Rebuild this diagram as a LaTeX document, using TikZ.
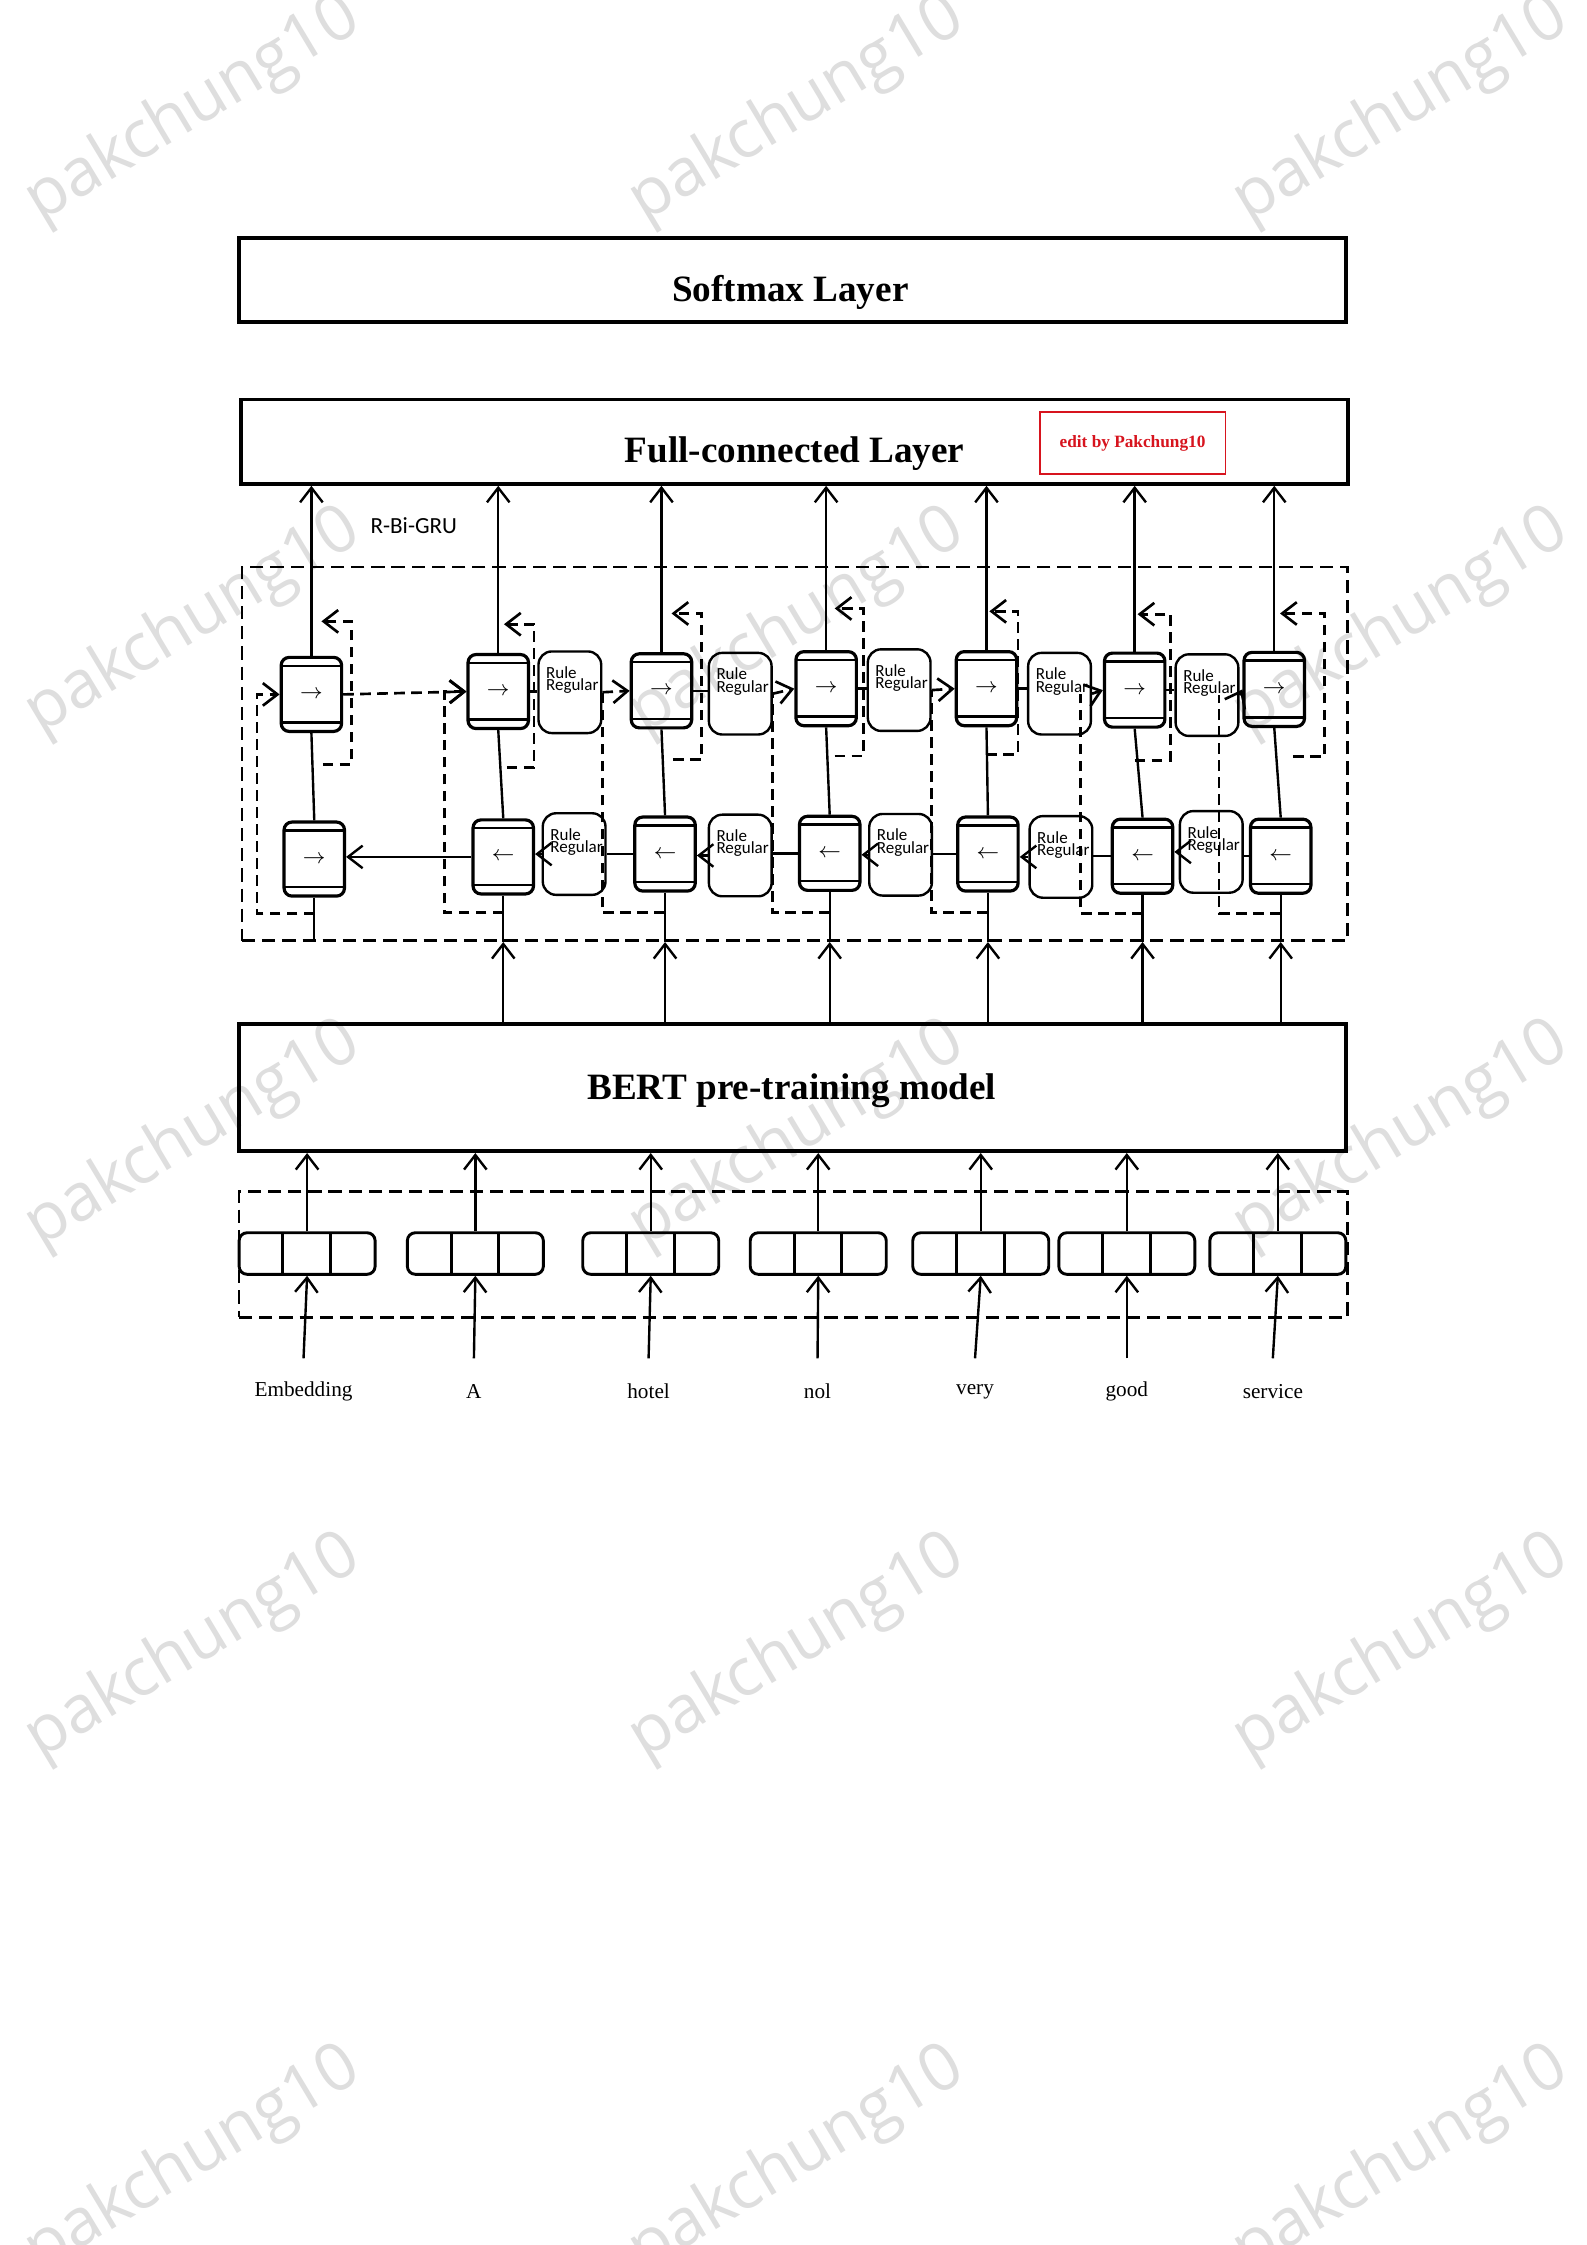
\documentclass[tikz,border=0pt]{standalone}
\usepackage{fontspec}
\setmainfont{Liberation Serif}
\newfontfamily\calibri{Carlito}
\newfontfamily\wmfont{Open Sans}
\usepackage{tikz}
\usetikzlibrary{arrows.meta, positioning}
\definecolor{editred}{RGB}{215,20,30}
\definecolor{wmgray}{RGB}{222,222,222}
\tikzstyle{layer} = [rectangle, draw=black, line width=1.4pt, minimum width=14.65cm]
\tikzstyle{layertext} = [font=\fontsize{14}{17}\selectfont\bfseries]
\tikzstyle{editbox} = [rectangle, draw=editred, line width=0.7pt, minimum width=2.46cm, minimum height=0.815cm, text=editred, font=\fontsize{6.5}{8}\selectfont\bfseries]
\tikzstyle{dashbox} = [rectangle, draw=black, line width=1pt, dash pattern=on 5pt off 2.6pt]
\tikzstyle{gru} = [rectangle, rounded corners=3pt, draw=black, line width=1.2pt, minimum width=0.8cm, minimum height=0.98cm, inner sep=0pt, font=\fontsize{8.5}{10}\selectfont,
  path picture={\draw[line width=0.9pt] ([yshift=-0.11cm]path picture bounding box.north west) -- ([yshift=-0.11cm]path picture bounding box.north east);
                \draw[line width=0.9pt] ([yshift=0.12cm]path picture bounding box.south west) -- ([yshift=0.12cm]path picture bounding box.south east);}]
\tikzstyle{ruletext} = [anchor=north west, xshift=0.11cm, yshift=-0.21cm, inner sep=0pt, align=left, font=\calibri\fontsize{6.4}{4.6}\selectfont]
\tikzstyle{rulebox} = [rectangle, rounded corners=5pt, draw=black, line width=0.9pt, minimum width=0.83cm, minimum height=1.08cm, label={[ruletext]north west:{Rule\\Regular}}]
\tikzstyle{vec} = [rectangle, rounded corners=3pt, draw=black, line width=1.1pt, minimum width=1.8cm, minimum height=0.55cm,
  path picture={\draw[line width=1.1pt] ([xshift=-0.32cm]path picture bounding box.north) -- ([xshift=-0.32cm]path picture bounding box.south);
                \draw[line width=1.1pt] ([xshift=0.31cm]path picture bounding box.north) -- ([xshift=0.31cm]path picture bounding box.south);}]
\tikzstyle{word} = [font=\fontsize{8}{10}\selectfont, minimum height=0.87cm, inner sep=0pt]
\tikzstyle{watermark} = [text=wmgray, font=\wmfont\fontsize{25}{30}\selectfont, rotate=31]
\tikzstyle{arrow} = [line width=0.9pt, -{Straight Barb[length=5.5pt,width=8.5pt]}]
\tikzstyle{link} = [line width=0.9pt]
\tikzstyle{dasharrow} = [line width=1pt, dash pattern=on 4pt off 2.4pt, -{Straight Barb[length=5.5pt,width=8.5pt]}]
\tikzstyle{dashline} = [line width=1pt, dash pattern=on 4pt off 2.4pt]

\begin{document}
\begin{tikzpicture}[x=0.018953cm, y=-0.018953cm]
    \path[use as bounding box, fill=white] (0,0) rectangle (1108,1568);
    % watermarks
    \foreach \wx in {135,557,979}
        \foreach \wy in {77,435,793,1151,1509}
            \node (wm-\wx-\wy) [watermark] at (\wx,\wy) {pakchung10};

    % output layers
    \node (softmax) [layer, minimum height=1.118cm] at (553.5,195.5) {};
    \node (softmaxtxt) [layertext] at (552,204) {Softmax Layer};
    \node (fc) [layer, minimum height=1.118cm] at (555,308.5) {};
    \node (fctxt) [layertext] at (555,316.5) {Full-connected Layer};
    \node (edit) [editbox] at (791,309.5) {edit by Pakchung10};

    % R-Bi-GRU
    \node (rnn) [dashbox, minimum width=14.63cm, minimum height=4.947cm] at (555,526.5) {};
    \node (rnnlabel) [font=\calibri\fontsize{8.7}{10}\selectfont] at (289,367) {R-Bi-GRU};

    \node (f1) [gru] at (217.5,485) {$\rightarrow$};
    \node (f2) [gru] at (348,483) {$\rightarrow$};
    \node (f3) [gru] at (462,482.5) {$\rightarrow$};
    \node (f4) [gru] at (577,481) {$\rightarrow$};
    \node (f5) [gru] at (689,481) {$\rightarrow$};
    \node (f6) [gru] at (792.5,482) {$\rightarrow$};
    \node (f7) [gru] at (890,481.5) {$\rightarrow$};

    \node (r1) [rulebox] at (398,483.5) {};
    \node (r2) [rulebox] at (517,484.5) {};
    \node (r3) [rulebox] at (628,482) {};
    \node (r4) [rulebox] at (740,484.5) {};
    \node (r5) [rulebox] at (843,485.5) {};

    \node (b1) [gru] at (219.5,600) {$\rightarrow$};
    \node (b2) [gru] at (351.5,598.5) {$\leftarrow$};
    \node (b3) [gru] at (464.5,596.5) {$\leftarrow$};
    \node (b4) [gru] at (579.5,596) {$\leftarrow$};
    \node (b5) [gru] at (690,596.5) {$\leftarrow$};
    \node (b6) [gru] at (798,598) {$\leftarrow$};
    \node (b7) [gru] at (894.5,598) {$\leftarrow$};

    \node (q1) [rulebox] at (401,596.5) {};
    \node (q2) [rulebox] at (517,597.5) {};
    \node (q3) [rulebox] at (629,597) {};
    \node (q4) [rulebox] at (741,598.5) {};
    \node (q5) [rulebox] at (846,595) {};

    % forward row
    \draw [dasharrow] (f1.east) -- (f2.west);
    \draw [link] (f2.east) -- (f2.east -| r1.west);
    \draw [dasharrow] (r1.east) -- (f3.west);
    \draw [link] (f3.east) -- (f3.east -| r2.west);
    \draw [dasharrow] (r2.east) -- (f4.west);
    \draw [link] (f4.east) -- (f4.east -| r3.west);
    \draw [dasharrow] (r3.east) -- (f5.west);
    \draw [link] (f5.east) -- (f5.east -| r4.west);
    \draw [dasharrow] (r4.east) -- (f6.west);
    \draw [link] (f6.east) -- (f6.east -| r5.west);
    \draw [dasharrow] (r5.east) -- (f7.west);

    % backward row
    \draw [arrow] (b2.west) -- (b2.west -| b1.east);
    \draw [link] (b3.west) -- (b3.west -| q1.east);
    \draw [arrow] (q1.west) -- (q1.west -| b2.east);
    \draw [link] (b4.west) -- (b4.west -| q2.east);
    \draw [arrow] (q2.west) -- (q2.west -| b3.east);
    \draw [link] (b5.west) -- (b5.west -| q3.east);
    \draw [arrow] (q3.west) -- (q3.west -| b4.east);
    \draw [link] (b6.west) -- (b6.west -| q4.east);
    \draw [arrow] (q4.west) -- (q4.west -| b5.east);
    \draw [link] (b7.west) -- (b7.west -| q5.east);
    \draw [arrow] (q5.west) -- (q5.west -| b6.east);

    % columns
    \draw [link] (b1.north) -- (f1.south);
    \draw [link] (b2.north) -- (f2.south);
    \draw [link] (b3.north) -- (f3.south);
    \draw [link] (b4.north) -- (f4.south);
    \draw [link] (b5.north) -- (f5.south);
    \draw [link] (b6.north) -- (f6.south);
    \draw [link] (b7.north) -- (f7.south);

    \draw [arrow] (f1.north) -- (f1.north |- fc.south);
    \draw [arrow] (f2.north) -- (f2.north |- fc.south);
    \draw [arrow] (f3.north) -- (f3.north |- fc.south);
    \draw [arrow] (f4.north) -- (f4.north |- fc.south);
    \draw [arrow] (f5.north) -- (f5.north |- fc.south);
    \draw [arrow] (f6.north) -- (f6.north |- fc.south);
    \draw [arrow] (f7.north) -- (f7.north |- fc.south);

    % self loops
    \draw [dasharrow] (f1.south) ++(8,22) -- ++(20,0) -- ++(0,-100) -- ++(-21,0);
    \draw [dasharrow] (f2.south) ++(6,26) -- ++(19,0) -- ++(0,-100) -- ++(-21,0);
    \draw [dasharrow] (f3.south) ++(8,21) -- ++(20,0) -- ++(0,-102) -- ++(-21,0);
    \draw [dasharrow] (f4.south) ++(6,20) -- ++(20,0) -- ++(0,-103) -- ++(-20,0);
    \draw [dasharrow] (f5.south) ++(0,19) -- ++(22,0) -- ++(0,-100) -- ++(-20,0);
    \draw [dasharrow] (f6.south) ++(0,22) -- ++(25,0) -- ++(0,-102) -- ++(-23,0);
    \draw [dasharrow] (f7.south) ++(13,20) -- ++(22,0) -- ++(0,-100) -- ++(-31,0);

    % feeds from the backward cells
    \draw [dasharrow] (b1.south) ++(0,11) -- ++(-40,0) |- (f1.west);
    \draw [dasharrow] (b2.south) ++(0,12) -- ++(-41,0) |- (f2.west);
    \draw [dashline] (b3.south) ++(0,14) -| (r1.east);
    \draw [dashline] (b4.south) ++(0,14.5) -| (r2.east);
    \draw [dashline] (b5.south) ++(0,14) -| (r3.east);
    \draw [dashline] (b6.south) ++(0,13) -| ([xshift=-0.15cm]r4.east);
    \draw [dashline] (b7.south) ++(0,13) -| ([xshift=-0.27cm]r5.east);

    % BERT
    \node (bert) [layer, minimum height=1.687cm] at (553.5,759.5) {};
    \node (berttxt) [layertext] at (553,762) {BERT pre-training model};

    \draw [link] (b1.south) -- (b1.south |- rnn.south);
    \draw [link] (b2.south) -- (b2.south |- rnn.south);
    \draw [link] (b3.south) -- (b3.south |- rnn.south);
    \draw [link] (b4.south) -- (b4.south |- rnn.south);
    \draw [link] (b5.south) -- (b5.south |- rnn.south);
    \draw [link] (b6.south) -- (b6.south |- rnn.south);
    \draw [link] (b7.south) -- (b7.south |- rnn.south);
    \draw [arrow] (b2.south |- bert.north) -- (b2.south |- rnn.south);
    \draw [arrow] (b3.south |- bert.north) -- (b3.south |- rnn.south);
    \draw [arrow] (b4.south |- bert.north) -- (b4.south |- rnn.south);
    \draw [arrow] (b5.south |- bert.north) -- (b5.south |- rnn.south);
    \draw [arrow] (b6.south |- bert.north) -- (b6.south |- rnn.south);
    \draw [arrow] (b7.south |- bert.north) -- (b7.south |- rnn.south);

    % embedding
    \node (emb) [dashbox, minimum width=14.67cm, minimum height=1.668cm] at (554,876) {};
    \node (e1) [vec] at (214.5,875.5) {};
    \node (e2) [vec] at (332,875.5) {};
    \node (e3) [vec] at (454.5,875.5) {};
    \node (e4) [vec] at (571.5,875.5) {};
    \node (e5) [vec] at (685,875.5) {};
    \node (e6) [vec] at (787,875.5) {};
    \node (e7) [vec] at (892.5,875.5) {};

    \node (w1) [word] at (212,972) {Embedding};
    \node (w2) [word] at (331,972) {A};
    \node (w3) [word] at (453,972) {hotel};
    \node (w4) [word] at (571,972) {nol};
    \node (w5) [word] at (681,972) {very};
    \node (w6) [word] at (787,972) {good};
    \node (w7) [word] at (889,972) {service};

    \draw [arrow] (e1.north) -- (e1.north |- bert.south);
    \draw [arrow] (e2.north) -- (e2.north |- bert.south);
    \draw [arrow] (e3.north) -- (e3.north |- bert.south);
    \draw [arrow] (e4.north) -- (e4.north |- bert.south);
    \draw [arrow] (e5.north) -- (e5.north |- bert.south);
    \draw [arrow] (e6.north) -- (e6.north |- bert.south);
    \draw [arrow] (e7.north) -- (e7.north |- bert.south);

    \draw [arrow] (w1.north) -- (e1.south);
    \draw [arrow] (w2.north) -- (e2.south);
    \draw [arrow] (w3.north) -- (e3.south);
    \draw [arrow] (w4.north) -- (e4.south);
    \draw [arrow] (w5.north) -- (e5.south);
    \draw [arrow] (w6.north) -- (e6.south);
    \draw [arrow] (w7.north) -- (e7.south);
\end{tikzpicture}
\end{document}
